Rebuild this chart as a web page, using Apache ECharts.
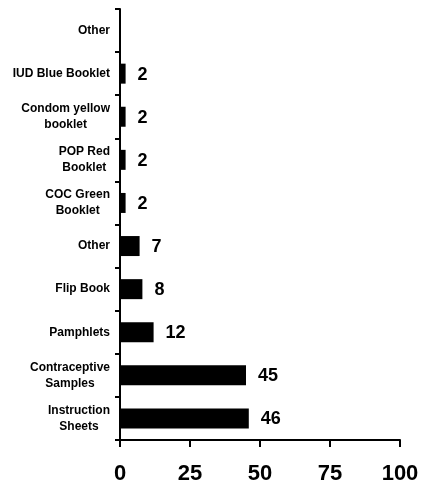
<!DOCTYPE html>
<html>
<head>
<meta charset="utf-8">
<script src="https://cdn.jsdelivr.net/npm/echarts@6/dist/echarts.min.js"></script>
<style>
html,body{margin:0;padding:0;background:#fff;}
#chart{width:422px;height:487px;}
</style>
</head>
<body>
<div id="chart"></div>
<script>
// Categories listed bottom to top
const categories = [
  "Instruction\nSheets",
  "Contraceptive\nSamples",
  "Pamphlets",
  "Flip Book",
  "Other",
  "COC Green\nBooklet",
  "POP Red\nBooklet",
  "Condom yellow\nbooklet",
  "IUD Blue Booklet",
  "Other"
];
const values = [46, 45, 12, 8, 7, 2, 2, 2, 2, null];
const xTicks = [0, 25, 50, 75, 100];

const FONT = '"Liberation Sans", Arial, sans-serif';
const chart = echarts.init(document.getElementById('chart'));
chart.setOption({
  animation: false,
  backgroundColor: '#fff',
  grid: { left: 120, right: 22, top: 9, bottom: 47, containLabel: false },
  xAxis: {
    type: 'value',
    min: xTicks[0],
    max: xTicks[xTicks.length - 1],
    interval: xTicks[1] - xTicks[0],
    splitLine: { show: false },
    axisLine: { show: true, lineStyle: { color: '#000', width: 2 } },
    axisTick: { show: true, length: 7, lineStyle: { color: '#000', width: 2 } },
    axisLabel: { color: '#000', fontSize: 22, fontWeight: 'bold', fontFamily: FONT, margin: 23 }
  },
  yAxis: {
    type: 'category',
    data: categories,
    axisLine: { show: true, lineStyle: { color: '#000', width: 2 } },
    axisTick: { show: true, length: 5, alignWithLabel: false, lineStyle: { color: '#000', width: 2 } },
    axisLabel: {
      color: '#000',
      margin: 10,
      fontFamily: FONT,
      fontWeight: 'bold',
      fontSize: 12,
      lineHeight: 16,
      interval: 0,
      formatter: function (v) {
        return v.split('\n').map(function (l) { return '{c|' + l + '}'; }).join('\n');
      },
      rich: {
        c: { align: 'center', fontSize: 12, fontWeight: 'bold', fontFamily: FONT, lineHeight: 16, color: '#000' }
      }
    }
  },
  series: [{
    type: 'bar',
    data: values,
    barWidth: 20,
    itemStyle: { color: '#000' },
    label: {
      show: true,
      position: 'right',
      distance: 12,
      offset: [0, 1],
      color: '#000',
      fontSize: 18,
      fontWeight: 'bold',
      fontFamily: FONT
    }
  }]
});
</script>
</body>
</html>
